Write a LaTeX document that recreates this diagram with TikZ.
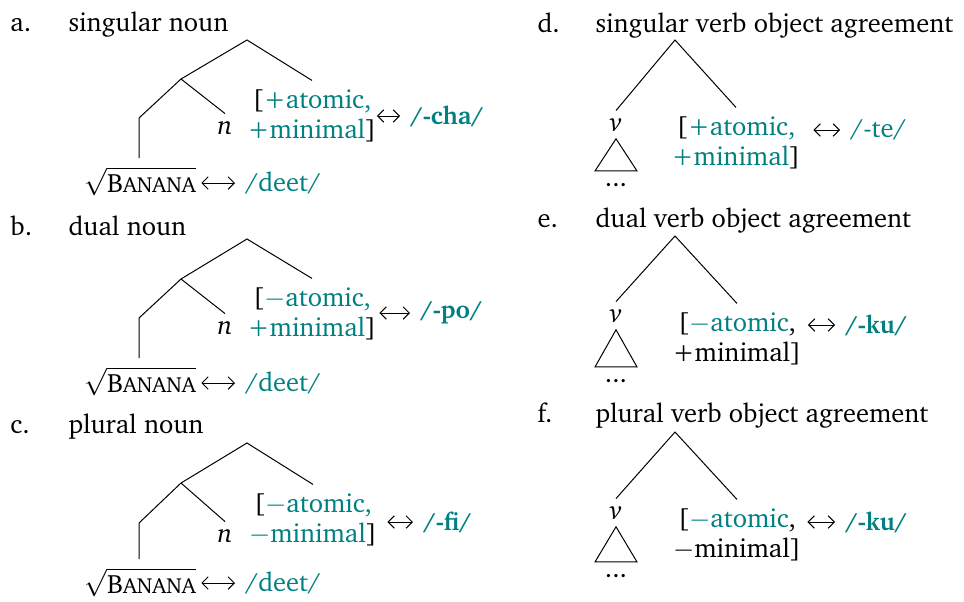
\documentclass[tikz,border=0pt]{standalone}
\usepackage[T1]{fontenc}
\usepackage{charter}
\usetikzlibrary{arrows.meta}
\definecolor{expcol}{RGB}{0,128,128}
\tikzset{lbl/.style={anchor=base west, inner sep=0pt},
  feat/.style={align=center, inner xsep=0pt, inner ysep=3.5pt},
  expo/.style={anchor=west, inner sep=0pt, text=expcol},
  leaf/.style={anchor=base, inner sep=2.8pt},
  ell/.style={anchor=base, inner sep=1pt, text height=1ex},
  rootnd/.style={anchor=base, inner xsep=0pt},
  pair/.style={{Straight Barb[length=2.5pt]}-{Straight Barb[length=2.5pt]}, shorten >=4pt}}
\newcommand{\hl}[1]{\textcolor{expcol}{#1}}
\newcommand{\rt}{$\sqrt{\mbox{B\fontsize{8.7}{9}\selectfont ANANA}}$}

\begin{document}
\begin{tikzpicture}[x=0.4pt, y=-0.4pt, font=\fontsize{10.6}{12}\selectfont]
\useasboundingbox (0,0) rectangle (964,601);
% a. singular noun
\node[lbl] (la) at (10,31) {a.};
\node[lbl] (ta) at (68,31) {singular noun};
\coordinate (ra) at (247,40);
\coordinate (ma) at (181,79);
\coordinate (ka) at (139,118);
\node[feat] (fa) at (312,116) {[\hl{+atomic,}\\\hl{+minimal}]};
\node[leaf] (na) at (225,134) {\textit{n}};
\node[rootnd] (ba) at (140,192) {\rt};
\node[expo, font=\bfseries] (xa) at (410,116) {/-cha/};
\node[expo] (da) at (245,183) {/deet/};
\draw (fa.north) -- (ra) -- (ma) -- (ka) -- (ka |- ba.north) (ma) -- (na.north);
\draw[pair] (fa.east |- xa.west) -- (xa.west);
\draw[pair, shorten <=2pt] (ba.east |- da.west) -- (da.west);
% b. dual noun
\node[lbl] (lb) at (10,235) {b.};
\node[lbl] (tb) at (68,235) {dual noun};
\coordinate (rb) at (247,239);
\coordinate (mb) at (181,279);
\coordinate (kb) at (139,318);
\node[feat] (fb) at (312,314) {[\hl{$-$atomic,}\\\hl{+minimal}]};
\node[leaf] (nb) at (225,334) {\textit{n}};
\node[rootnd] (bb) at (140,392) {\rt};
\node[expo, font=\bfseries] (xb) at (420,313) {/-po/};
\node[expo] (db) at (245,383) {/deet/};
\draw (fb.north) -- (rb) -- (mb) -- (kb) -- (kb |- bb.north) (mb) -- (nb.north);
\draw[pair, shorten <=1pt] (fb.east |- xb.west) -- (xb.west);
\draw[pair, shorten <=2pt] (bb.east |- db.west) -- (db.west);
% c. plural noun
\node[lbl] (lc) at (10,433) {c.};
\node[lbl] (tc) at (68,433) {plural noun};
\coordinate (rc) at (247,443);
\coordinate (mc) at (181,483);
\coordinate (kc) at (139,523);
\node[feat] (fc) at (313,520) {[\hl{$-$atomic,}\\\hl{$-$minimal}]};
\node[leaf] (nc) at (225,542) {\textit{n}};
\node[rootnd] (bc) at (140,593) {\rt};
\node[expo, font=\bfseries] (xc) at (423,522) {/-fi/};
\node[expo] (dc) at (245,583) {/deet/};
\draw (fc.north) -- (rc) -- (mc) -- (kc) -- (kc |- bc.north) (mc) -- (nc.north);
\draw[pair, shorten <=4pt] (fc.east |- xc.west) -- (xc.west);
\draw[pair, shorten <=2pt] (bc.east |- dc.west) -- (dc.west);
% d. singular verb object agreement
\node[lbl] (ld) at (537,32) {d.};
\node[lbl] (td) at (595,32) {singular verb object agreement};
\coordinate (rd) at (675,40);
\node[leaf] (vd) at (616,131) {\textit{v}};
\node[ell] (dd) at (616,186) {...};
\node[feat] (fd) at (736,143) {[\hl{+atomic,}\\\hl{+minimal}]};
\node[expo] (xd) at (850,130) {/-te/};
\draw (vd.north) -- (rd) -- (fd.north);
\draw (vd.south) -- ([xshift=-8.4pt]dd.north) -- ([xshift=8.4pt]dd.north) -- cycle;
\draw[pair, shorten <=5pt] (fd.east |- xd.west) -- (xd.west);
% e. dual verb object agreement
\node[lbl] (le) at (537,227) {e.};
\node[lbl] (te) at (595,227) {dual verb object agreement};
\coordinate (re) at (675,236);
\node[leaf] (ve) at (616,322) {\textit{v}};
\node[ell] (de) at (616,382) {...};
\node[feat] (fe) at (737,339) {[\hl{$-$atomic},\\+minimal]};
\node[expo, font=\bfseries] (xe) at (845,325) {/-ku/};
\draw (ve.north) -- (re) -- (fe.north);
\draw (ve.south) -- ([xshift=-8.4pt]de.north) -- ([xshift=8.4pt]de.north) -- cycle;
\draw[pair, shorten <=2.4pt] (fe.east |- xe.west) -- (xe.west);
% f. plural verb object agreement
\node[lbl] (lf) at (537,422) {f.};
\node[lbl] (tf) at (595,422) {plural verb object agreement};
\coordinate (rf) at (675,432);
\node[leaf] (vf) at (616,519) {\textit{v}};
\node[ell] (df) at (616,577) {...};
\node[feat] (ff) at (737,535) {[\hl{$-$atomic},\\$-$minimal]};
\node[expo, font=\bfseries] (xf) at (845,522) {/-ku/};
\draw (vf.north) -- (rf) -- (ff.north);
\draw (vf.south) -- ([xshift=-8.4pt]df.north) -- ([xshift=8.4pt]df.north) -- cycle;
\draw[pair, shorten <=2.4pt] (ff.east |- xf.west) -- (xf.west);
\end{tikzpicture}
\end{document}
